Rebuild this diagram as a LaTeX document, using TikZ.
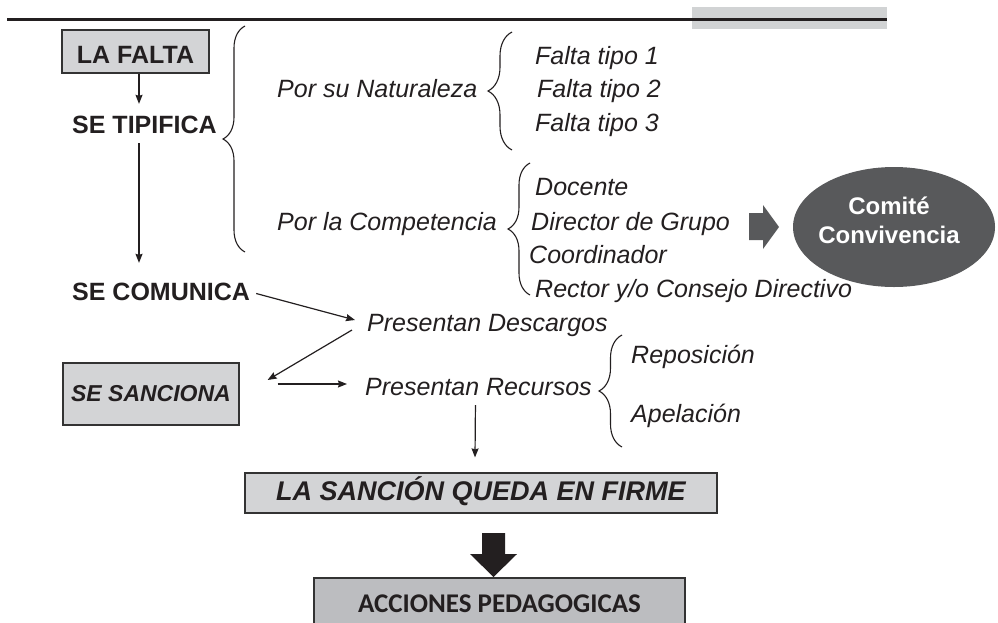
\documentclass[tikz,border=0pt]{standalone}
\usepackage{fontspec}
\setmainfont{Liberation Sans}
\newfontfamily\calibrifont{Carlito}
\usetikzlibrary{shapes.geometric, arrows}
\usetikzlibrary{positioning}
\usetikzlibrary{arrows.meta}
\usetikzlibrary{decorations.pathreplacing}
\definecolor{inkblack}{HTML}{231F20}
\definecolor{boxgray}{HTML}{D3D4D6}
\definecolor{boxdark}{HTML}{BCBDC0}
\definecolor{ovalgray}{HTML}{58595B}
\definecolor{bargray}{HTML}{D1D3D4}

\begin{document}
\begin{tikzpicture}[
    x=1pt, y=-1pt, >={Stealth[length=9pt, width=7pt, inset=1pt]},
    % text label styles
    label bold/.style={
        anchor=base west,
        inner sep=0pt,
        text height=18pt,
        text depth=5pt,
        font=\fontsize{25}{30}\selectfont\bfseries,
        text=inkblack
    },
    label ital/.style={
        anchor=base west,
        inner sep=0pt,
        text height=18pt,
        text depth=5pt,
        font=\fontsize{25}{30}\selectfont\itshape,
        text=inkblack
    },
    % box styles
    stage box/.style={
        draw=black!80,
        line width=1.2pt,
        fill=boxgray,
        inner sep=0pt,
        text=inkblack
    },
    % edge styles
    flow edge/.style={->, draw=inkblack, line width=1.2pt},
    type brace/.style={
        decorate,
        decoration={brace, amplitude=#1},
        draw=inkblack,
        line width=1.1pt
    }
]
\useasboundingbox (0,0) rectangle (998,622);

% -------------------------------
% Top rule
\fill[bargray] (692,7) rectangle (887,29);
\draw[inkblack, line width=3pt] (7,19) -- (887,19);

% -------------------------------
% Left column
\node[stage box, minimum width=147pt, minimum height=43pt, text height=23pt,
      font=\fontsize{25}{30}\selectfont\bfseries] (falta) at (135.5,51.5) {LA FALTA};
\node[label bold] (tipifica) at (72,133) {SE TIPIFICA};
\node[label bold] (comunica) at (72,300) {SE COMUNICA};
\node[stage box, minimum width=176pt, minimum height=62pt,
      font=\fontsize{23}{28}\selectfont\bfseries\itshape] (sanciona) at (151,394) {SE SANCIONA};

% -------------------------------
% Tipificacion
\node[label ital] (naturaleza) at (277,97) {Por su Naturaleza};
\node[label ital] (competencia) at (277,230) {Por la Competencia};

\foreach \i/\xp/\yp in {1/535/64, 2/537/97, 3/535/131}
{
    \node[label ital] (tipo-\i) at (\xp,\yp) {Falta tipo \i};
}
\foreach \i/\xp/\yp/\lbl in {1/535/195/Docente, 2/531/230/Director de Grupo,
                             3/529/263/Coordinador, 4/535/297/{Rector y/o Consejo Directivo}}
{
    \node[label ital] (comp-\i) at (\xp,\yp) {\lbl};
}

\draw[type brace=22pt] (245,252) -- (245,26);
\draw[type brace=24pt] (512,150) -- (512,32);
\draw[type brace=22pt] (530,295) -- (530,163);

% -------------------------------
% Comite
\fill[ovalgray] (749,213) -- (763,213) -- (763,205) -- (779,227)
    -- (763,249) -- (763,240) -- (749,240) -- cycle;
\node[ellipse, fill=ovalgray, minimum width=202pt, minimum height=120pt,
      inner sep=0pt] (comite) at (894,227) {};
\node[align=center, inner sep=0pt, text=white,
      font=\fontsize{24}{29}\selectfont\bfseries] (comite-text) at (889,220.5) {Comité\\Convivencia};

% -------------------------------
% Descargos y recursos
\node[label ital] (descargos) at (367,331) {Presentan Descargos};
\node[label ital] (recursos) at (365,395) {Presentan Recursos};
\node[label ital] (reposicion) at (631,363) {Reposición};
\node[label ital] (apelacion) at (631,422) {Apelación};
\draw[type brace=23pt] (622,447) -- (622,335);

% -------------------------------
% Cierre
\node[stage box, minimum width=472pt, minimum height=40pt, text height=19.5pt,
      font=\fontsize{27}{32}\selectfont\bfseries\itshape] (lasancion) at (481,493) {LA SANCIÓN QUEDA EN FIRME};
\fill[inkblack] (482,533) -- (505,533) -- (505,554) -- (517,554)
    -- (493.5,577) -- (470,554) -- (482,554) -- cycle;
\node[stage box, fill=boxdark, minimum width=371pt, minimum height=52pt,
      font=\fontsize{27}{32}\calibrifont\bfseries] (acciones) at (499.5,604) {ACCIONES PEDAGOGICAS};

% -------------------------------
% Flechas
\coordinate (spine) at (139,0);
\draw[flow edge, shorten >=11pt] (falta.south -| spine) -- (tipifica.north -| spine);
\draw[flow edge, shorten <=5pt, shorten >=19pt] (tipifica.south -| spine) -- (comunica.north -| spine);
\draw[flow edge] ([xshift=6pt]comunica.east) -- ([xshift=-12pt, yshift=4.5pt]descargos.west);
\draw[flow edge] ([xshift=-15pt, yshift=-5.5pt]descargos.west) -- ([xshift=28pt, yshift=14pt]sanciona.east);
\draw[flow edge] ([xshift=38pt, yshift=10pt]sanciona.east) -- ([xshift=-18pt, yshift=4.5pt]recursos.west);
\draw[flow edge] ([xshift=-3pt, yshift=-5pt]recursos.south) -- ([xshift=-6pt, yshift=15pt]lasancion.north);
\end{tikzpicture}
\end{document}
